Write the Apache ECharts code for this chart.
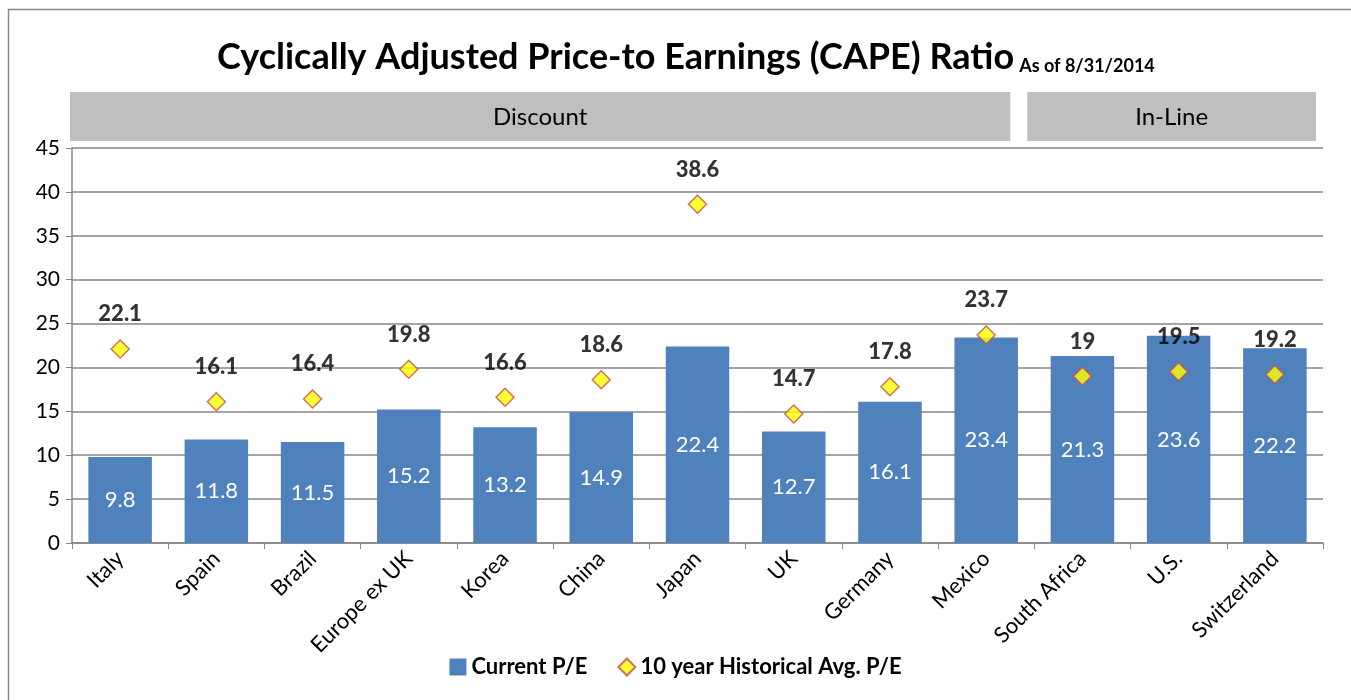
<!DOCTYPE html>
<html>
<head>
<meta charset="utf-8">
<script src="https://cdn.jsdelivr.net/npm/echarts@6/dist/echarts.min.js"></script>
<style>
  html, body { margin: 0; padding: 0; background: #fff; }
  #chart { width: 1351px; height: 700px; }
</style>
</head>
<body>
<div id="chart"></div>
<script>
const countries = ['Italy', 'Spain', 'Brazil', 'Europe ex UK', 'Korea', 'China', 'Japan', 'UK', 'Germany', 'Mexico', 'South Africa', 'U.S.', 'Switzerland'];
const currentPE = [9.8, 11.8, 11.5, 15.2, 13.2, 14.9, 22.4, 12.7, 16.1, 23.4, 21.3, 23.6, 22.2];
const histAvgPE = [22.1, 16.1, 16.4, 19.8, 16.6, 18.6, 38.6, 14.7, 17.8, 23.7, 19, 19.5, 19.2];
const yTicks = [0, 5, 10, 15, 20, 25, 30, 35, 40, 45];
const groups = [{ name: 'Discount', from: 0, to: 9 }, { name: 'In-Line', from: 10, to: 12 }];

const font = 'Lato, "Open Sans", sans-serif';
const myChart = echarts.init(document.getElementById('chart'));

// header boxes over the category bands
const gridLeft = 72, gridRight = 28, plotW = 1351 - gridLeft - gridRight;
const band = plotW / countries.length;
const headers = [];
groups.forEach(function (g, i) {
  const x0 = gridLeft + g.from * band + (i === 0 ? -2 : -7);
  const x1 = gridLeft + (g.to + 1) * band + (i === 0 ? -24 : -7);
  headers.push({
    type: 'rect',
    shape: { x: x0, y: 92, width: x1 - x0, height: 49 },
    style: { fill: '#BFBFBF' }
  });
  headers.push({
    type: 'text',
    x: (x0 + x1) / 2, y: 117,
    style: { text: g.name, fontFamily: font, fontSize: 24, fill: '#000', align: 'center', verticalAlign: 'middle' }
  });
});

const option = {
  backgroundColor: '#fff',
  title: {
    text: '{a|Cyclically Adjusted Price-to Earnings (CAPE) Ratio} {b|As of 8/31/2014}',
    left: 212,
    top: 34,
    textStyle: {
      rich: {
        a: { fontFamily: font, fontSize: 36, fontWeight: 'bold', color: '#000' },
        b: { fontFamily: font, fontSize: 18, fontWeight: 'bold', color: '#000', verticalAlign: 'bottom', padding: [14, 0, 0, 0] }
      }
    }
  },
  graphic: [{
    type: 'rect',
    shape: { x: 8.5, y: 9.5, width: 1360, height: 700 },
    style: { fill: 'none', stroke: '#868686', lineWidth: 1.5 }
  }].concat(headers),
  legend: {
    bottom: 17,
    left: 'center',
    itemGap: 30,
    itemWidth: 17,
    itemHeight: 17,
    textStyle: { fontFamily: font, fontSize: 22, fontWeight: 'bold', color: '#000' },
    data: [
      { name: 'Current P/E', icon: 'rect' },
      { name: '10 year Historical Avg. P/E', icon: 'diamond' }
    ]
  },
  grid: { left: gridLeft, right: gridRight, top: 148, bottom: 157 },
  xAxis: {
    type: 'category',
    data: countries,
    axisLine: { lineStyle: { color: '#868686', width: 1.5 } },
    axisTick: { show: true, length: 6, lineStyle: { color: '#868686' } },
    axisLabel: { rotate: 45, fontFamily: font, fontSize: 22, color: '#000', margin: 12 }
  },
  yAxis: {
    type: 'value',
    min: 0,
    max: 45,
    interval: 5,
    axisLine: { show: true, lineStyle: { color: '#868686', width: 1.5 } },
    axisTick: { show: true, length: 6, lineStyle: { color: '#868686' } },
    axisLabel: {
      fontFamily: font, fontSize: 21, color: '#000', margin: 12,
      formatter: function (v) { return yTicks.indexOf(v) >= 0 ? String(v) : ''; }
    },
    splitLine: { lineStyle: { color: '#868686', width: 1.5 } }
  },
  series: [
    {
      name: 'Current P/E',
      type: 'bar',
      data: currentPE,
      barWidth: '66%',
      itemStyle: { color: '#4F81BD' },
      label: {
        show: true,
        position: 'inside',
        fontFamily: font,
        fontSize: 22,
        color: '#fff'
      }
    },
    {
      name: '10 year Historical Avg. P/E',
      type: 'scatter',
      data: histAvgPE,
      symbol: 'diamond',
      symbolSize: 18,
      z: 3,
      itemStyle: { color: '#FFFF00', borderColor: '#C0504D', borderWidth: 1.5 },
      label: {
        show: true,
        position: 'top',
        distance: 14,
        fontFamily: font,
        fontSize: 22,
        fontWeight: 900,
        color: '#000'
      }
    }
  ]
};

myChart.setOption(option);
</script>
</body>
</html>
